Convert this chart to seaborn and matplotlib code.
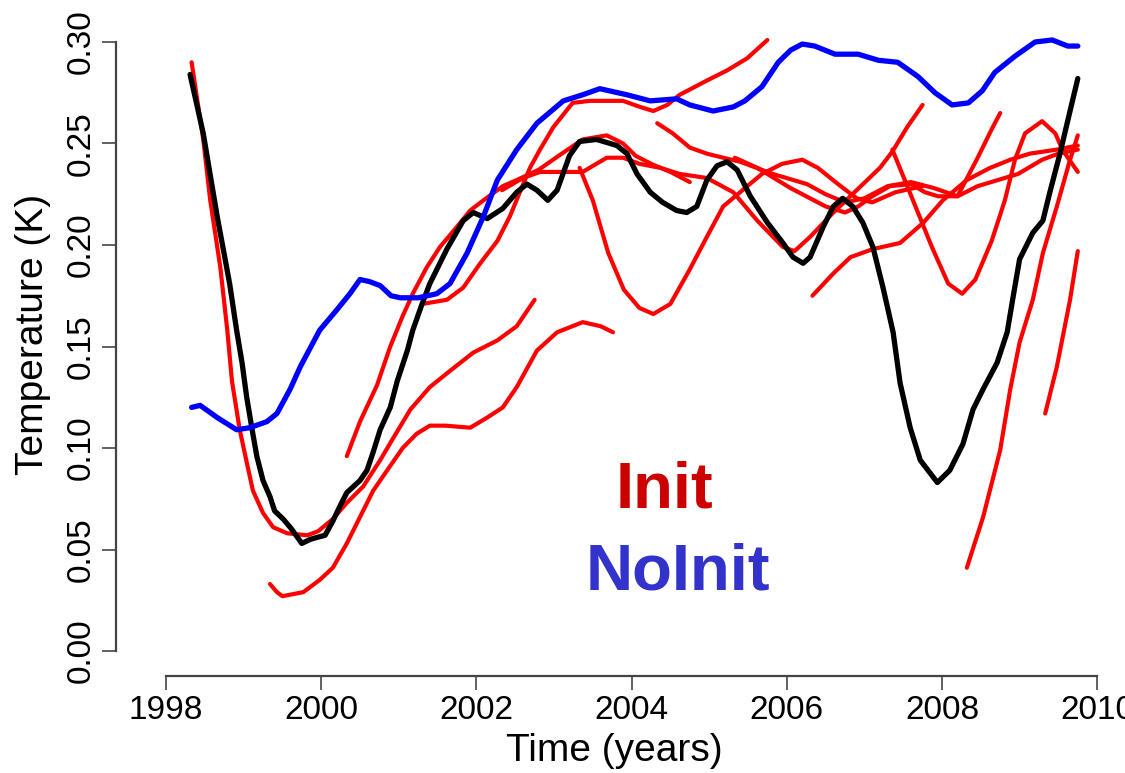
import numpy as np
import pandas as pd
import matplotlib
matplotlib.use("Agg")
import matplotlib.pyplot as plt
import seaborn as sns

# ---- observed series (black) ----
obs_year = [1998.31, 1998.48, 1998.66, 1998.82, 1998.91, 1998.98, 1999.04, 1999.11, 1999.17, 1999.25,
            1999.34, 1999.40, 1999.51, 1999.62, 1999.75, 1999.86, 1999.95, 2000.05, 2000.15, 2000.25,
            2000.33, 2000.50, 2000.59, 2000.67, 2000.76, 2000.89, 2000.98, 2001.11, 2001.18, 2001.30,
            2001.40, 2001.62, 2001.83, 2001.96, 2002.14, 2002.34, 2002.52, 2002.65, 2002.78, 2002.92,
            2003.04, 2003.20, 2003.33, 2003.55, 2003.81, 2003.94, 2004.07, 2004.24, 2004.40, 2004.58,
            2004.71, 2004.84, 2004.97, 2005.10, 2005.23, 2005.36, 2005.53, 2005.75, 2005.95, 2006.08,
            2006.21, 2006.30, 2006.47, 2006.60, 2006.72, 2006.85, 2006.98, 2007.11, 2007.24, 2007.37,
            2007.46, 2007.59, 2007.72, 2007.94, 2008.10, 2008.27, 2008.40, 2008.53, 2008.71, 2008.84,
            2008.91, 2009.00, 2009.17, 2009.30, 2009.39, 2009.52, 2009.65, 2009.75]
obs_temp = [0.284, 0.255, 0.214, 0.181, 0.158, 0.142, 0.125, 0.109, 0.096, 0.084,
            0.076, 0.069, 0.065, 0.060, 0.053, 0.055, 0.056, 0.057, 0.064, 0.072,
            0.078, 0.084, 0.089, 0.098, 0.109, 0.120, 0.133, 0.148, 0.158, 0.171,
            0.181, 0.198, 0.212, 0.216, 0.213, 0.218, 0.226, 0.230, 0.227, 0.222,
            0.227, 0.244, 0.251, 0.252, 0.249, 0.245, 0.235, 0.226, 0.221, 0.217,
            0.216, 0.219, 0.232, 0.239, 0.241, 0.237, 0.224, 0.211, 0.201, 0.194,
            0.191, 0.194, 0.209, 0.219, 0.223, 0.219, 0.211, 0.199, 0.179, 0.157,
            0.132, 0.110, 0.094, 0.083, 0.089, 0.102, 0.119, 0.129, 0.142, 0.157,
            0.173, 0.193, 0.206, 0.212, 0.226, 0.245, 0.266, 0.282]

# ---- uninitialised run (blue) ----
noinit_year = [1998.33, 1998.44, 1998.66, 1998.91, 1999.08, 1999.30, 1999.43, 1999.60, 1999.73, 1999.98,
               2000.20, 2000.37, 2000.50, 2000.62, 2000.76, 2000.90, 2001.02, 2001.25, 2001.49, 2001.66,
               2001.88, 2002.09, 2002.27, 2002.52, 2002.78, 2003.12, 2003.37, 2003.59, 2003.94, 2004.24,
               2004.58, 2004.75, 2005.05, 2005.31, 2005.46, 2005.68, 2005.89, 2006.05, 2006.20, 2006.36,
               2006.62, 2006.92, 2007.18, 2007.43, 2007.69, 2007.91, 2008.13, 2008.34, 2008.52, 2008.68,
               2008.94, 2009.20, 2009.42, 2009.62, 2009.75]
noinit_temp = [0.120, 0.121, 0.115, 0.109, 0.110, 0.113, 0.117, 0.129, 0.140, 0.158,
               0.168, 0.176, 0.183, 0.182, 0.180, 0.175, 0.174, 0.174, 0.176, 0.181,
               0.196, 0.214, 0.232, 0.247, 0.260, 0.271, 0.274, 0.277, 0.274, 0.271,
               0.272, 0.269, 0.266, 0.268, 0.271, 0.278, 0.290, 0.296, 0.299, 0.298,
               0.294, 0.294, 0.291, 0.290, 0.283, 0.275, 0.269, 0.270, 0.276, 0.285,
               0.293, 0.300, 0.301, 0.298, 0.298]

# ---- initialised hindcasts (red), one per start date ----
init_1998_year = [1998.33, 1998.48, 1998.57, 1998.70, 1998.79, 1998.85, 1998.95, 1999.04, 1999.12, 1999.25,
                  1999.38, 1999.56, 1999.82, 1999.96, 2000.15, 2000.33, 2000.54, 2000.76, 2000.93, 2001.15,
                  2001.40, 2001.66, 2001.96, 2002.27, 2002.52, 2002.75]
init_1998_temp = [0.290, 0.252, 0.222, 0.189, 0.158, 0.133, 0.109, 0.093, 0.079, 0.068,
                  0.061, 0.058, 0.057, 0.059, 0.065, 0.073, 0.081, 0.094, 0.105, 0.119,
                  0.130, 0.138, 0.147, 0.153, 0.160, 0.173]

init_1999_year = [1999.34, 1999.43, 1999.50, 1999.77, 1999.98, 2000.15, 2000.33, 2000.50, 2000.67, 2000.85,
                  2001.05, 2001.23, 2001.40, 2001.60, 2001.92, 2002.14, 2002.34, 2002.52, 2002.78, 2003.04,
                  2003.37, 2003.60, 2003.76]
init_1999_temp = [0.033, 0.029, 0.027, 0.029, 0.035, 0.041, 0.053, 0.066, 0.079, 0.089,
                  0.100, 0.107, 0.111, 0.111, 0.110, 0.115, 0.120, 0.130, 0.148, 0.157,
                  0.162, 0.160, 0.157]

init_2000_year = [2000.33, 2000.50, 2000.72, 2000.89, 2001.05, 2001.18, 2001.36, 2001.53, 2001.75, 2001.92,
                  2002.09, 2002.34, 2002.52, 2002.80, 2003.10, 2003.37, 2003.68, 2003.89, 2004.05, 2004.25,
                  2004.50, 2004.75]
init_2000_temp = [0.096, 0.113, 0.131, 0.150, 0.165, 0.176, 0.189, 0.199, 0.209, 0.217,
                  0.222, 0.229, 0.232, 0.237, 0.245, 0.252, 0.254, 0.250, 0.244, 0.240,
                  0.236, 0.231]

init_2001_year = [2001.31, 2001.62, 2001.83, 2002.05, 2002.27, 2002.43, 2002.56, 2002.69, 2002.82, 2002.99,
                  2003.24, 2003.46, 2003.89, 2004.11, 2004.28, 2004.46, 2004.62, 2004.97, 2005.23, 2005.49,
                  2005.75]
init_2001_temp = [0.171, 0.173, 0.179, 0.191, 0.202, 0.214, 0.226, 0.238, 0.247, 0.258,
                  0.270, 0.271, 0.271, 0.268, 0.266, 0.269, 0.274, 0.281, 0.286, 0.292,
                  0.301]

init_2002_year = [2002.33, 2002.60, 2002.82, 2003.10, 2003.37, 2003.68, 2003.89, 2004.10, 2004.37, 2004.62,
                  2004.97, 2005.31, 2005.62, 2005.95, 2006.10, 2006.30, 2006.60, 2006.90, 2007.20, 2007.36,
                  2007.55, 2007.75]
init_2002_temp = [0.227, 0.233, 0.236, 0.236, 0.236, 0.243, 0.243, 0.240, 0.238, 0.235,
                  0.233, 0.226, 0.212, 0.199, 0.197, 0.204, 0.216, 0.227, 0.238, 0.246,
                  0.258, 0.269]

init_2003_year = [2003.33, 2003.50, 2003.70, 2003.90, 2004.10, 2004.28, 2004.50, 2004.75, 2004.97, 2005.18,
                  2005.46, 2005.68, 2005.94, 2006.20, 2006.40, 2006.66, 2006.90, 2007.10, 2007.40, 2007.75]
init_2003_temp = [0.238, 0.222, 0.196, 0.178, 0.169, 0.166, 0.171, 0.188, 0.204, 0.219,
                  0.228, 0.235, 0.240, 0.242, 0.238, 0.230, 0.223, 0.221, 0.226, 0.229]

init_2004_year = [2004.33, 2004.53, 2004.75, 2004.97, 2005.18, 2005.40, 2005.82, 2006.26, 2006.50, 2006.75,
                  2007.00, 2007.30, 2007.60, 2007.90, 2008.20, 2008.46, 2008.64, 2008.75]
init_2004_temp = [0.260, 0.255, 0.248, 0.245, 0.243, 0.241, 0.235, 0.230, 0.225, 0.221,
                  0.223, 0.229, 0.231, 0.228, 0.224, 0.243, 0.257, 0.265]

init_2005_year = [2005.33, 2005.62, 2006.05, 2006.50, 2006.75, 2006.92, 2007.10, 2007.33, 2007.60, 2007.78,
                  2007.95, 2008.20, 2008.46, 2008.72, 2008.98, 2009.29, 2009.50, 2009.75]
init_2005_temp = [0.243, 0.238, 0.228, 0.219, 0.216, 0.219, 0.224, 0.229, 0.230, 0.226,
                  0.224, 0.224, 0.229, 0.232, 0.235, 0.242, 0.245, 0.247]

init_2006_year = [2006.33, 2006.60, 2006.82, 2007.11, 2007.46, 2007.76, 2008.01, 2008.32, 2008.62, 2008.88,
                  2009.13, 2009.48, 2009.75]
init_2006_temp = [0.175, 0.186, 0.194, 0.198, 0.201, 0.211, 0.222, 0.232, 0.238, 0.242,
                  0.245, 0.247, 0.249]

init_2007_year = [2007.36, 2007.52, 2007.69, 2007.87, 2008.08, 2008.26, 2008.43, 2008.64, 2008.81, 2008.94,
                  2009.07, 2009.29, 2009.46, 2009.55, 2009.75]
init_2007_temp = [0.247, 0.232, 0.216, 0.199, 0.181, 0.176, 0.183, 0.202, 0.222, 0.242,
                  0.255, 0.261, 0.255, 0.247, 0.236]

init_2008_year = [2008.32, 2008.53, 2008.75, 2008.88, 2009.00, 2009.17, 2009.30, 2009.48, 2009.65, 2009.75]
init_2008_temp = [0.041, 0.066, 0.099, 0.129, 0.152, 0.173, 0.196, 0.219, 0.242, 0.254]

init_2009_year = [2009.33, 2009.48, 2009.65, 2009.75]
init_2009_temp = [0.117, 0.140, 0.173, 0.197]

init_runs = {
    "1998": (init_1998_year, init_1998_temp),
    "1999": (init_1999_year, init_1999_temp),
    "2000": (init_2000_year, init_2000_temp),
    "2001": (init_2001_year, init_2001_temp),
    "2002": (init_2002_year, init_2002_temp),
    "2003": (init_2003_year, init_2003_temp),
    "2004": (init_2004_year, init_2004_temp),
    "2005": (init_2005_year, init_2005_temp),
    "2006": (init_2006_year, init_2006_temp),
    "2007": (init_2007_year, init_2007_temp),
    "2008": (init_2008_year, init_2008_temp),
    "2009": (init_2009_year, init_2009_temp),
}

x_ticks = [1998, 2000, 2002, 2004, 2006, 2008, 2010]
y_ticks = [0.00, 0.05, 0.10, 0.15, 0.20, 0.25, 0.30]
y_tick_labels = ["0.00", "0.05", "0.10", "0.15", "0.20", "0.25", "0.30"]

init_df = pd.concat(
    [pd.DataFrame({"year": yr, "temp": tp, "start": key}) for key, (yr, tp) in init_runs.items()],
    ignore_index=True,
)
obs_df = pd.DataFrame({"year": obs_year, "temp": obs_temp})
noinit_df = pd.DataFrame({"year": noinit_year, "temp": noinit_temp})

sns.set_style("ticks")
plt.rcParams["font.family"] = ["Liberation Sans", "DejaVu Sans"]
plt.rcParams["lines.solid_joinstyle"] = "round"

W, H = 1125, 773
fig = plt.figure(figsize=(W / 100, H / 100), dpi=100)
left_px, right_px, top_px, bottom_px = 116, 1110, 30, 676
ax = fig.add_axes([left_px / W, 1 - bottom_px / H,
                   (right_px - left_px) / W, (bottom_px - top_px) / H])

sns.lineplot(data=init_df, x="year", y="temp", units="start", estimator=None,
             sort=False, color="#ff0000", linewidth=3.0, ax=ax, legend=False)
sns.lineplot(data=obs_df, x="year", y="temp", sort=False, color="black",
             linewidth=3.8, ax=ax, legend=False)
sns.lineplot(data=noinit_df, x="year", y="temp", sort=False, color="#0000ff",
             linewidth=3.8, ax=ax, legend=False)

# axis ranges chosen so the spines sit at 1998-2010 and 0.00-0.30
px_per_year = 77.6
px_per_unit = 2030.0
ax.set_xlim(1998 + (left_px - 166) / px_per_year, 1998 + (right_px - 166) / px_per_year)
ax.set_ylim((651 - bottom_px) / px_per_unit, (651 - top_px) / px_per_unit)

for side in ("top", "right"):
    ax.spines[side].set_visible(False)
for side in ("left", "bottom"):
    ax.spines[side].set_color("#444444")
    ax.spines[side].set_linewidth(1.6)
ax.spines["left"].set_bounds(0.0, 0.30)
ax.spines["bottom"].set_bounds(1998, 2010)

ax.set_xticks(x_ticks)
ax.set_xticklabels([str(t) for t in x_ticks])
ax.set_yticks(y_ticks)
ax.set_yticklabels(y_tick_labels, rotation=90, va="center")
ax.tick_params(axis="both", direction="out", length=10, width=1.3, color="#555555",
               labelsize=24, labelcolor="black", pad=4)

ax.set_xlabel("Time (years)", fontsize=28, va="top", color="black")
ax.xaxis.set_label_coords((614 - left_px) / (right_px - left_px),
                          -(733 - bottom_px) / (bottom_px - top_px))
ax.set_ylabel("Temperature (K)", fontsize=28, va="center", color="black")
ax.yaxis.set_label_coords(-(left_px - 33) / (right_px - left_px),
                          (bottom_px - 334) / (bottom_px - top_px))

ax.text(2004.42, 0.0709, "Init", color="#cc0000", fontsize=47, fontweight="bold",
        ha="center", va="baseline")
ax.text(2004.59, 0.0305, "NoInit", color="#3333cc", fontsize=47, fontweight="bold",
        ha="center", va="baseline")

fig.savefig("out.png", dpi=100)
